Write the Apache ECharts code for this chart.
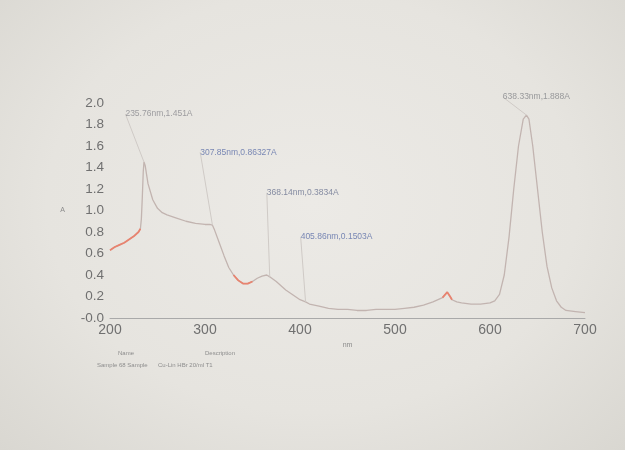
<!DOCTYPE html>
<html>
<head>
<meta charset="utf-8">
<script src="https://cdn.jsdelivr.net/npm/echarts@6/dist/echarts.min.js"></script>
<style>
  html, body { margin:0; padding:0; }
  body { width:625px; height:450px; background: radial-gradient(ellipse at 50% 45%, #eceae6 0%, #e6e4df 60%, #d9d7d1 100%); }
  #chart { width:625px; height:450px; }
</style>
</head>
<body>
<div id="chart"></div>
<script>
// Wavelength (nm) and absorbance (A)
const wavelengths = [200,205,210,215,220,225,230,232,233,234,235,235.76,237,240,245,250,255,260,270,280,290,300,305,307.85,310,315,320,325,330,335,340,345,350,355,360,365,368.14,370,375,380,385,390,395,400,405.86,410,420,430,440,450,460,470,480,490,500,510,520,530,540,550,555,557,558,560,565,570,580,590,600,605,610,615,620,625,630,635,638.33,641,645,650,655,660,665,670,675,680,690,700];
const absorbance  = [0.63,0.66,0.68,0.70,0.73,0.76,0.80,0.83,0.92,1.12,1.36,1.451,1.42,1.25,1.10,1.02,0.98,0.96,0.93,0.90,0.88,0.87,0.87,0.863,0.82,0.70,0.58,0.47,0.40,0.35,0.32,0.32,0.34,0.37,0.39,0.40,0.383,0.37,0.34,0.30,0.26,0.23,0.20,0.17,0.150,0.13,0.11,0.09,0.08,0.08,0.07,0.07,0.08,0.08,0.08,0.09,0.10,0.12,0.15,0.19,0.24,0.25,0.20,0.17,0.15,0.14,0.13,0.13,0.14,0.16,0.22,0.40,0.75,1.20,1.60,1.85,1.888,1.85,1.60,1.20,0.80,0.48,0.28,0.16,0.10,0.07,0.06,0.05];
// Segments of the trace drawn in red
const redRanges = [[200,232],[330,350],[550,560]];
// Peak annotations
const peakNm    = [235.76, 307.85, 368.14, 405.86, 638.33];
const peakA     = [1.451, 0.86327, 0.3834, 0.1503, 1.888];
const peakText  = ['235.76nm,1.451A','307.85nm,0.86327A','368.14nm,0.3834A','405.86nm,0.1503A','638.33nm,1.888A'];
// Axis tick labels
const yTickLabels = ['-0.0','0.2','0.4','0.6','0.8','1.0','1.2','1.4','1.6','1.8','2.0'];
const xTickValues = [200,300,400,500,600,700];
// Footer
const footerHead = ['Name','Description'];
const footerVal  = ['Sample 68 Sample','Cu-Lin HBr 20/ml T1'];

const peakOffsets = [[15,-48],[26,-73],[33,-84],[31,-65],[10,-18]];
const peakColors  = ['#8a8a8e','#5b6ea8','#6a7390','#5b6ea8','#85868a'];

const mainData = wavelengths.map((x,i)=>[x,absorbance[i]]);
const redSeries = redRanges.map(r => ({
  type:'line', showSymbol:false, silent:true, z:3,
  lineStyle:{color:'#e8836f', width:1.8},
  data: mainData.filter(p => p[0] >= r[0] && p[0] <= r[1])
}));

const chart = echarts.init(document.getElementById('chart'), null, {renderer:'canvas'});
chart.setOption({
  backgroundColor:'transparent',
  animation:false,
  grid:{left:110, right:40, top:103, bottom:132},
  xAxis:{
    type:'value', min:200, max:700, interval:100,
    name:'nm', nameLocation:'middle', nameGap:24,
    nameTextStyle:{color:'#8a8a8a', fontSize:7, fontFamily:'Liberation Sans'},
    axisLine:{show:true, lineStyle:{color:'#a9a9a9', width:1}},
    axisTick:{show:false},
    splitLine:{show:false},
    axisLabel:{color:'#707070', fontSize:14, fontFamily:'Liberation Sans', margin:5,
      formatter: v => xTickValues.includes(v) ? String(v) : ''}
  },
  yAxis:{
    type:'value', min:0, max:2.0, interval:0.2,
    name:'A', nameLocation:'middle', nameGap:45, nameRotate:0,
    nameTextStyle:{color:'#8a8a8a', fontSize:7, fontFamily:'Liberation Sans'},
    axisLine:{show:false}, axisTick:{show:false}, splitLine:{show:false},
    axisLabel:{color:'#707070', fontSize:13.5, fontFamily:'Liberation Sans', margin:6,
      formatter: v => yTickLabels[Math.round(v/0.2)]}
  },
  series:[
    {type:'line', showSymbol:false, silent:true, z:2,
     lineStyle:{color:'#c2b4b0', width:1.3}, data: mainData},
    ...redSeries,
    {type:'scatter', symbolSize:0, z:4,
     label:{show:true, position:'inside', fontSize:8.5, fontFamily:'Liberation Sans',
            formatter: p => peakText[p.dataIndex]},
     labelLine:{show:true, lineStyle:{color:'#cfcac6', width:1}},
     labelLayout: p => ({dx: peakOffsets[p.dataIndex][0], dy: peakOffsets[p.dataIndex][1]}),
     data: peakNm.map((x,i)=>({
       value:[x, peakA[i]],
       label:{color: peakColors[i]}
     }))}
  ],
  graphic:[
    {type:'text', left:118, top:350, style:{text:footerHead[0], fill:'#8d8d8d', font:'6px Liberation Sans'}},
    {type:'text', left:205, top:350, style:{text:footerHead[1], fill:'#8d8d8d', font:'6px Liberation Sans'}},
    {type:'text', left:97,  top:362, style:{text:footerVal[0], fill:'#8d8d8d', font:'6px Liberation Sans'}},
    {type:'text', left:158, top:362, style:{text:footerVal[1], fill:'#8d8d8d', font:'6px Liberation Sans'}}
  ]
});
</script>
</body>
</html>
